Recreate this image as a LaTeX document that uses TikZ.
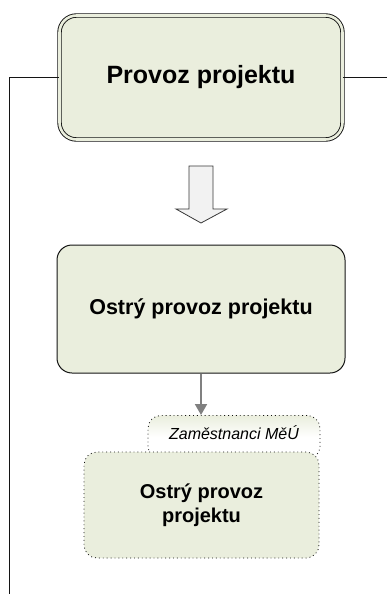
\documentclass[tikz,border=0pt]{standalone}
\usepackage{fontspec}
\setmainfont{Liberation Sans}
\usetikzlibrary{arrows.meta,shapes.misc}
\definecolor{boxfill}{RGB}{234,238,221}
\definecolor{arrowfill}{RGB}{242,242,242}
\definecolor{linkgray}{RGB}{128,128,128}
\definecolor{edge}{RGB}{20,20,20}
\tikzset{
  mainbox/.style={draw=edge, fill=boxfill, rounded corners=17pt, line width=0.9pt,
    double=boxfill, double distance=2.6pt, minimum width=283pt, minimum height=124pt,
    inner sep=0pt, align=center, font=\fontsize{25}{30}\selectfont\bfseries},
  stagebox/.style={draw=edge, fill=boxfill, rounded corners=15pt, line width=1pt,
    minimum width=288pt, minimum height=128pt, inner sep=0pt, align=center,
    font=\fontsize{21.5}{26}\selectfont\bfseries},
  taskbox/.style={draw=edge, fill=boxfill, rounded corners=13pt, line width=0.8pt,
    dash pattern=on 0.9pt off 3pt, minimum width=235pt, minimum height=106pt,
    inner sep=0pt, align=center, font=\fontsize{20}{24.5}\selectfont\bfseries},
  rolebox/.style={draw=edge, top color=boxfill, bottom color=white, middle color=white,
    rectangle, rounded corners=13pt, line width=0.8pt, dash pattern=on 0.9pt off 3pt,
    minimum width=172pt, minimum height=44pt, inner sep=0pt,
    font=\fontsize{16}{19}\selectfont\itshape},
  link/.style={draw=edge, line width=1pt},
  flow/.style={draw=linkgray, line width=2pt, -{Triangle[width=12pt,length=11pt]}},
  blockarrow/.style={draw=edge!85, fill=arrowfill, line width=0.8pt, line join=miter},
}
\begin{document}
\begin{tikzpicture}[x=1pt,y=-1pt]
\useasboundingbox (0,0) rectangle (387,594);

% top level box and its side links
\node[mainbox] (top) at (201,77.5) {Provoz projektu};
\coordinate (lc) at (9,77.5);
\coordinate (lb) at (9,594);
\coordinate (rc) at (387,77.5);
\draw[link] (top.west) -- (lc) -- (lb);
\draw[link] (top.east) -- (rc);

% hollow block arrow, centred in the gap between the two levels
\draw[blockarrow]
  (189,166) -- (213,166) -- (213,209) -- (227,209) -- (201,223)
  -- (176,209) -- (189,209) -- cycle;

% stage box
\node[stagebox] (stage) at (201,309) {Ostrý provoz projektu};

% role tab, drawn before the task box so the box covers its lower part
\node[rolebox, anchor=north] (role) at (234,415) {};
\node (roletext) at (234,433) {\fontsize{16}{19}\selectfont\itshape Zaměstnanci MěÚ};
\node[taskbox] (task) at (201.5,505) {Ostrý provoz\\projektu};

\draw[flow] (stage.south) -- (role.north -| stage.south);
\end{tikzpicture}
\end{document}
